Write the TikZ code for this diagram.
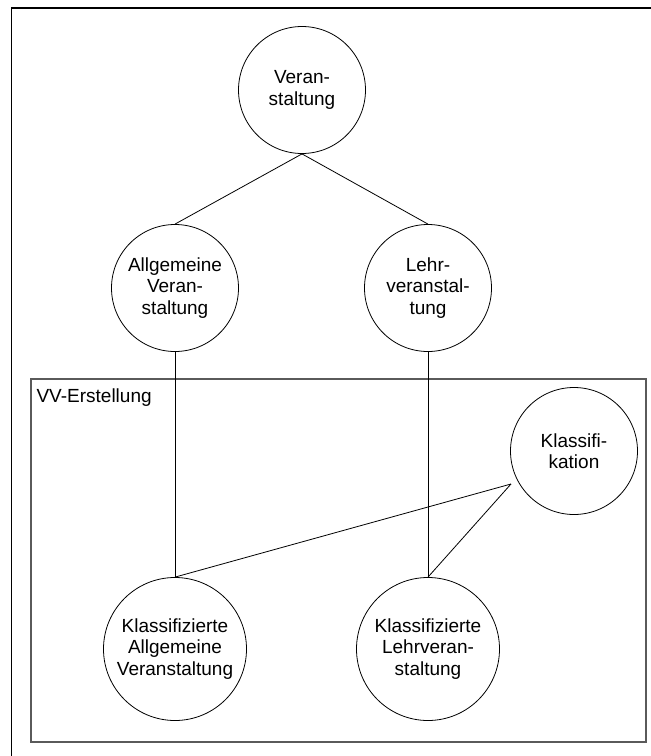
\documentclass[tikz,border=0pt]{standalone}
\usepackage{fontspec}
\setmainfont{Liberation Sans}
\definecolor{boxgray}{RGB}{90,90,90}
\begin{document}
\begin{tikzpicture}[x=1pt,y=-1pt,
  entity/.style={draw=black, line width=0.8pt, circle, inner sep=0pt,
    align=center, font=\fontsize{19}{21.5}\selectfont},
  small/.style={entity, minimum size=127pt},
  large/.style={entity, minimum size=143pt},
  link/.style={draw=black, line width=0.8pt}]
\useasboundingbox (0,0) rectangle (651,756);

% partial outer frame
\draw[line width=2pt] (11,8) -- (651,8);
\draw[line width=1.3pt] (11.5,7) -- (11.5,756);

% subsystem frame
\node[draw=boxgray, line width=1.3pt, minimum width=615pt, minimum height=363pt,
  inner sep=0pt] (vv) at (338.5,560.5) {};
\node[anchor=north west, inner sep=0pt, font=\fontsize{19}{21.5}\selectfont]
  (vvlabel) at ([xshift=6pt,yshift=-10pt]vv.north west) {VV-Erstellung};

% entities
\node[small] (top)  at (302,90)  {Veran-\\staltung};
\node[small] (allg) at (175,288) {Allgemeine\\Veran-\\staltung};
\node[small] (lehr) at (428,288) {Lehr-\\veranstal-\\tung};
\node[small] (klass) at (574,451) {Klassifi-\\kation};
\node[large] (kallg) at (175,649) {Klassifizierte\\Allgemeine\\Veranstaltung};
\node[large] (klehr) at (428,649) {Klassifizierte\\Lehrveran-\\staltung};
\coordinate (kp) at (511,484);

% connectors
\draw[link] (top.south) -- (allg.north);
\draw[link] (top.south) -- (lehr.north);
\draw[link] (allg.south) -- (kallg.north);
\draw[link] (lehr.south) -- (klehr.north);
\draw[link] (kp) -- (kallg.north);
\draw[link] (kp) -- (klehr.north);
\end{tikzpicture}
\end{document}
